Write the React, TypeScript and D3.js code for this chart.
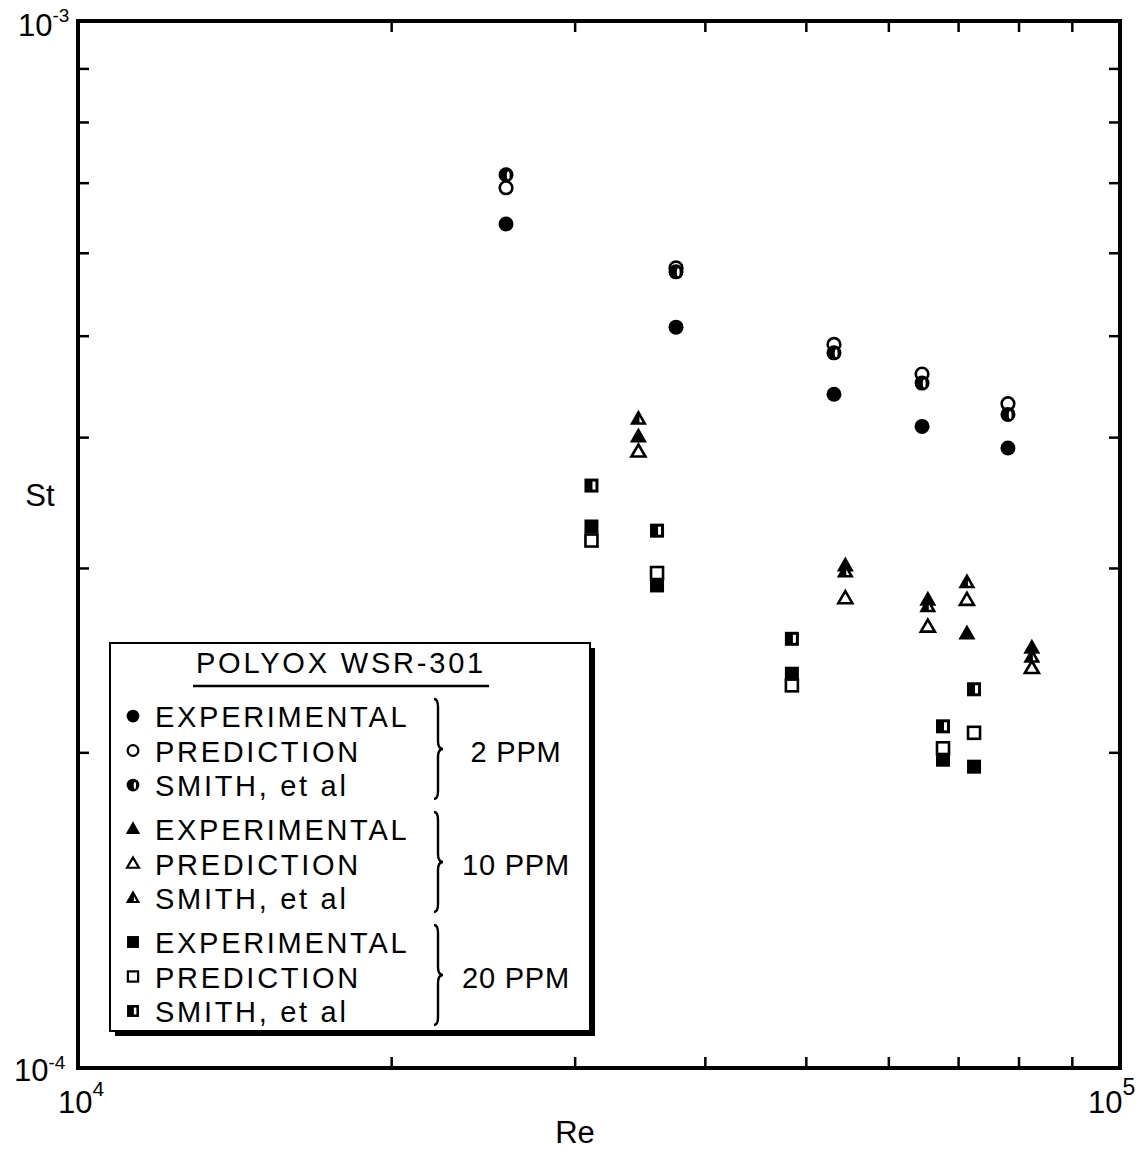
import React from "react";
import * as d3 from "d3";

// ---------- DATA ----------
const re2 = [25750, 37490, 53150, 64570, 78070];
const st2Exp = [6.4e-4, 5.1e-4, 4.4e-4, 4.1e-4, 3.91e-4];
const st2Pred = [6.93e-4, 5.81e-4, 4.91e-4, 4.6e-4, 4.31e-4];
const st2Smith = [7.13e-4, 5.76e-4, 4.82e-4, 4.51e-4, 4.21e-4];

const re10 = [34500, 54500, 65400, 71300, 82300];
const st10Exp = [4.01e-4, 3.02e-4, 2.8e-4, 2.6e-4, 2.52e-4];
const st10Pred = [3.88e-4, 2.81e-4, 2.64e-4, 2.8e-4, 2.41e-4];
const st10Smith = [4.17e-4, 2.98e-4, 2.76e-4, 2.91e-4, 2.47e-4];

const re20 = [31100, 35950, 48430, 67630, 72430];
const st20Exp = [3.29e-4, 2.89e-4, 2.38e-4, 1.97e-4, 1.94e-4];
const st20Pred = [3.19e-4, 2.97e-4, 2.32e-4, 2.02e-4, 2.09e-4];
const st20Smith = [3.6e-4, 3.26e-4, 2.57e-4, 2.12e-4, 2.3e-4];

const xTicks = [2e4, 3e4, 4e4, 5e4, 6e4, 7e4, 8e4, 9e4];
const yTicks = [2e-4, 3e-4, 4e-4, 5e-4, 6e-4, 7e-4, 8e-4, 9e-4];

const legendTitle = "POLYOX WSR-301";
const legendRows = ["EXPERIMENTAL", "PREDICTION", "SMITH, et al"];
const legendGroups = ["2 PPM", "10 PPM", "20 PPM"];

const FONT = "'Liberation Sans', Arial, Helvetica, sans-serif";

type Shape = "circle" | "triangle" | "square";
type Kind = "exp" | "pred" | "smith";

function Marker({ shape, kind, x, y, s = 1 }: { shape: Shape; kind: Kind; x: number; y: number; s?: number }) {
  const g = (children: React.ReactNode) => (
    <g transform={`translate(${x},${y}) scale(${s})`}>{children}</g>
  );
  if (shape === "circle") {
    if (kind === "exp") return g(<circle r={7.5} fill="#000" />);
    if (kind === "pred") return g(<circle r={6.3} fill="#fff" stroke="#000" strokeWidth={2.6} />);
    return g(
      <>
        <circle r={7.5} fill="#000" />
        <ellipse cx={2.2} cy={0.5} rx={1.4} ry={4} fill="#fff" />
      </>
    );
  }
  if (shape === "triangle") {
    const big = "M0,-9 L8.5,6 L-8.5,6 Z";
    if (kind === "exp") return g(<path d={big} fill="#000" />);
    if (kind === "pred")
      return g(<path d="M0,-7 L7,5 L-7,5 Z" fill="#fff" stroke="#000" strokeWidth={2.6} strokeLinejoin="miter" />);
    return g(
      <>
        <path d={big} fill="#000" />
        <path d="M1,-2 L4,3.5 L1,3.5 Z" fill="#fff" />
      </>
    );
  }
  // square
  if (kind === "exp") return g(<rect x={-7} y={-7} width={14} height={14} fill="#000" />);
  if (kind === "pred")
    return g(<rect x={-6} y={-6} width={12} height={12} fill="#fff" stroke="#000" strokeWidth={2.6} />);
  return g(
    <>
      <rect x={-7} y={-7} width={14} height={14} fill="#000" />
      <rect x={1} y={-4} width={3} height={8} fill="#fff" />
    </>
  );
}

function Brace({ x, y0, y1 }: { x: number; y0: number; y1: number }) {
  const m = (y0 + y1) / 2;
  const w = 5;
  const d = `M${x - 3},${y0} Q${x + 1},${y0} ${x + 1},${y0 + 8} L${x + 1},${m - 8} Q${x + 1},${m} ${x + w + 1},${m}
    Q${x + 1},${m} ${x + 1},${m + 8} L${x + 1},${y1 - 8} Q${x + 1},${y1} ${x - 3},${y1}`;
  return <path d={d} fill="none" stroke="#000" strokeWidth={2.4} />;
}

function Pow({ x, y, base, exp, size = 31, supSize = 19, dy = -14 }: { x: number; y: number; base: string; exp: string; size?: number; supSize?: number; dy?: number }) {
  return (
    <text x={x} y={y} fontSize={size} fill="#000">
      {base}
      <tspan dy={dy} fontSize={supSize}>{exp}</tspan>
    </text>
  );
}

export default function App() {
  const W = 1143;
  const H = 1152;
  const L = 78, R = 1120, T = 21, B = 1068;
  const x = d3.scaleLog().domain([1e4, 1e5]).range([L, R]);
  const y = d3.scaleLog().domain([1e-4, 1e-3]).range([B, T]);

  const series: { re: number[]; st: number[]; shape: Shape; kind: Kind }[] = [
    { re: re2, st: st2Exp, shape: "circle", kind: "exp" },
    { re: re2, st: st2Pred, shape: "circle", kind: "pred" },
    { re: re2, st: st2Smith, shape: "circle", kind: "smith" },
    { re: re10, st: st10Pred, shape: "triangle", kind: "pred" },
    { re: re10, st: st10Exp, shape: "triangle", kind: "exp" },
    { re: re10, st: st10Smith, shape: "triangle", kind: "smith" },
    { re: re20, st: st20Pred, shape: "square", kind: "pred" },
    { re: re20, st: st20Exp, shape: "square", kind: "exp" },
    { re: re20, st: st20Smith, shape: "square", kind: "smith" },
  ];

  const tickLen = 11;
  const shapes: Shape[] = ["circle", "triangle", "square"];
  const kinds: Kind[] = ["exp", "pred", "smith"];
  const groupTop = [716, 829, 942];
  const rowGap = 34.5;

  return (
    <svg
      width={W}
      height={H}
      style={{ position: "absolute", left: 0, top: 0, background: "#fff" }}
      fontFamily={FONT}
    >
      <rect width={W} height={H} fill="#fff" />
      {/* ticks */}
      {xTicks.map((t) => (
        <g key={"xt" + t} stroke="#000" strokeWidth={2.5}>
          <line x1={x(t)} x2={x(t)} y1={B} y2={B - tickLen} />
          <line x1={x(t)} x2={x(t)} y1={T} y2={T + tickLen} />
        </g>
      ))}
      {yTicks.map((t) => (
        <g key={"yt" + t} stroke="#000" strokeWidth={2.5}>
          <line x1={L} x2={L + tickLen} y1={y(t)} y2={y(t)} />
          <line x1={R} x2={R - tickLen} y1={y(t)} y2={y(t)} />
        </g>
      ))}
      {/* frame */}
      <rect x={L} y={T} width={R - L} height={B - T} fill="none" stroke="#000" strokeWidth={4} />

      {/* axis labels */}
      <Pow x={18} y={36} base="10" exp="-3" />
      <Pow x={14} y={1081} base="10" exp="-4" dy={-12} />
      <Pow x={58} y={1113} base="10" exp="4" supSize={21} dy={-17} />
      <Pow x={1088} y={1113} base="10" exp="5" supSize={23} dy={-18} />
      <text x={40} y={506} fontSize={31} fill="#000" textAnchor="middle">St</text>
      <text x={575} y={1143} fontSize={31} fill="#000" textAnchor="middle">Re</text>

      {/* data */}
      {series.map((s, si) =>
        s.re.map((r, i) => (
          <Marker key={si + "-" + i} shape={s.shape} kind={s.kind} x={x(r)} y={y(s.st[i])} />
        ))
      )}

      {/* legend */}
      <rect x={115} y={648} width={480} height={388} fill="#000" />
      <rect x={110} y={643} width={480} height={388} fill="#fff" stroke="#000" strokeWidth={2} />
      <text x={341} y={673} fontSize={29} letterSpacing={2.8} textAnchor="middle" fill="#000">
        {legendTitle}
      </text>
      <line x1={193} x2={489} y1={686} y2={686} stroke="#000" strokeWidth={2.4} />
      {shapes.map((sh, gi) => (
        <g key={sh}>
          {kinds.map((k, ri) => {
            const cy = groupTop[gi] + ri * rowGap;
            return (
              <g key={k}>
                <Marker shape={sh} kind={k} x={133} y={cy} s={0.85} />
                <text x={155} y={cy + 11} fontSize={29} letterSpacing={2.7} fill="#000">
                  {legendRows[ri]}
                </text>
              </g>
            );
          })}
          <Brace x={437} y0={groupTop[gi] - 17} y1={groupTop[gi] + 2 * rowGap + 14} />
          <text x={516} y={groupTop[gi] + rowGap + 11} fontSize={29} letterSpacing={0.8} textAnchor="middle" fill="#000">
            {legendGroups[gi]}
          </text>
        </g>
      ))}
    </svg>
  );
}
